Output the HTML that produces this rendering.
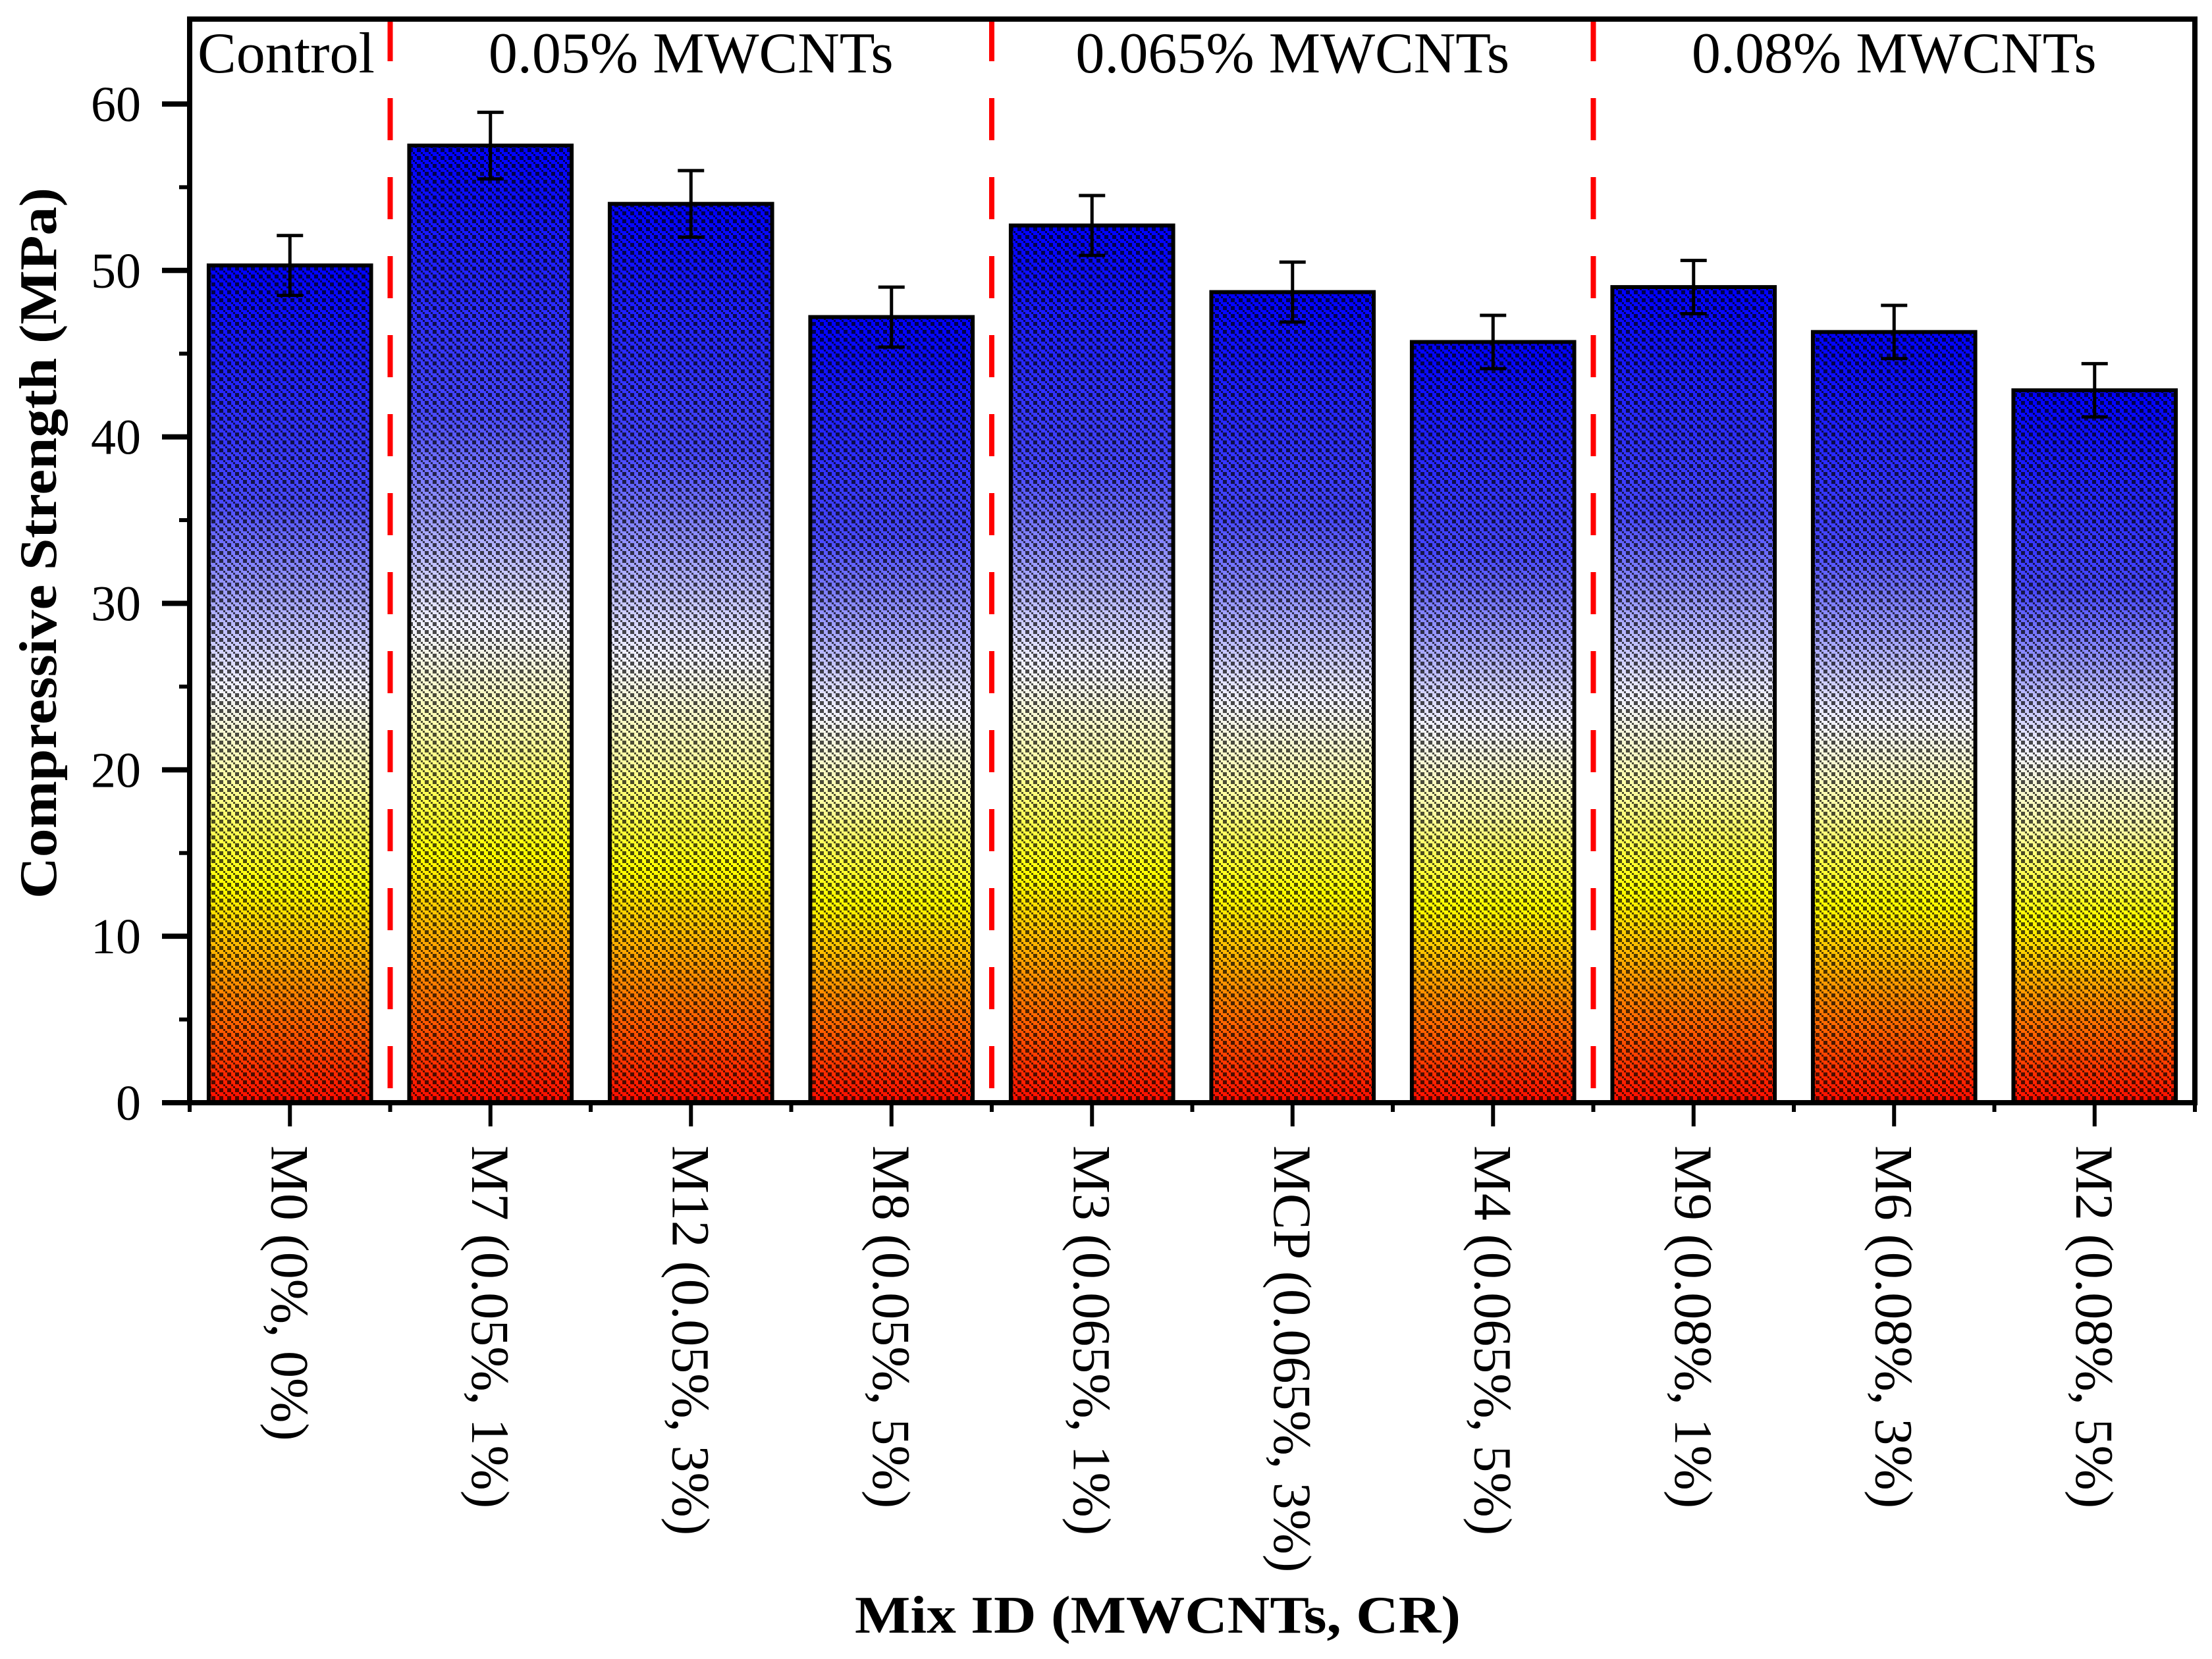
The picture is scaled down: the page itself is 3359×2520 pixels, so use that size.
<!DOCTYPE html>
<html><head><meta charset="utf-8">
<style>
html,body{margin:0;padding:0;background:#fff;}
svg{display:block;font-family:"Liberation Serif",serif;}
</style></head>
<body>
<svg id="chart" width="3359" height="2520" viewBox="0 0 3359 2520" xmlns="http://www.w3.org/2000/svg">
<defs>
<linearGradient id="barGrad" x1="0" y1="0" x2="0" y2="1">
<stop offset="0" stop-color="#0000ff"/>
<stop offset="0.28" stop-color="#4848ff"/>
<stop offset="0.5" stop-color="#f0f0ff"/>
<stop offset="0.62" stop-color="#ffffa0"/>
<stop offset="0.74" stop-color="#ffff00"/>
<stop offset="0.86" stop-color="#ff8c00"/>
<stop offset="1" stop-color="#ff0a00"/>
</linearGradient>
<pattern id="weave" width="12" height="12" patternUnits="userSpaceOnUse">
<rect x="0" y="0" width="3" height="3" fill="#000"/>
<rect x="3" y="3" width="3" height="3" fill="#000"/>
<rect x="9" y="0" width="3" height="3" fill="#000"/>
<rect x="6" y="6" width="3" height="3" fill="#000"/>
<rect x="0" y="9" width="3" height="3" fill="#000"/>
<rect x="9" y="9" width="3" height="3" fill="#000"/>
</pattern>
</defs>
<g id="plot"></g>
</svg>
<script>
const categories = ["M0 (0%, 0%)","M7 (0.05%, 1%)","M12 (0.05%, 3%)","M8 (0.05%, 5%)","M3 (0.065%, 1%)","MCP (0.065%, 3%)","M4 (0.065%, 5%)","M9 (0.08%, 1%)","M6 (0.08%, 3%)","M2 (0.08%, 5%)"];
const strengthValues = [50.3, 57.5, 54.0, 47.2, 52.7, 48.7, 45.7, 49.0, 46.3, 42.8];
const errorValues = [1.8, 2.0, 2.0, 1.8, 1.8, 1.8, 1.6, 1.6, 1.6, 1.6];
const yTicks = [0, 10, 20, 30, 40, 50, 60];
const groupLabels = ["Control", "0.05% MWCNTs", "0.065% MWCNTs", "0.08% MWCNTs"];
const groupStarts = [0, 1, 4, 7];
const groupEnds = [1, 4, 7, 10];

const NS = "http://www.w3.org/2000/svg";
const L = 288, R = 3333, T = 29, B = 1675;
const yMax = 65.1;
const band = (R - L) / categories.length;
function xCenter(i){ return L + band * (i + 0.5); }
function xEdge(i){ return L + band * i; }
function yPos(v){ return B - (v / yMax) * (B - T); }
const g = document.getElementById('plot');
function el(tag, attrs, parent){
  const e = document.createElementNS(NS, tag);
  for (const k in attrs) e.setAttribute(k, attrs[k]);
  (parent || g).appendChild(e);
  return e;
}

const barW = band * 0.81;
categories.forEach((c, i) => {
  const x = xCenter(i) - barW / 2, y = yPos(strengthValues[i]), h = B - y;
  const r = el('rect', {x: x, y: y, width: barW, height: h, fill: 'url(#barGrad)'});
  
  
  const p = el('rect', {x: x, y: y, width: barW, height: h, fill: 'url(#weave)', opacity: 0.7});
  
  
  const o = el('rect', {x: x, y: y, width: barW, height: h, fill: 'none', stroke: '#000', 'stroke-width': 6});
  
  
  const cx = xCenter(i), yt = yPos(strengthValues[i] + errorValues[i]), yb = yPos(strengthValues[i] - errorValues[i]);
  const eg = el('g', {stroke: '#000', 'stroke-width': 5, fill: 'none'});
  
  
  el('line', {x1: cx, x2: cx, y1: yt, y2: yb}, eg);
  el('line', {x1: cx - 20, x2: cx + 20, y1: yt, y2: yt}, eg);
  el('line', {x1: cx - 20, x2: cx + 20, y1: yb, y2: yb}, eg);
});

groupStarts.slice(1).forEach(s => {
  const x = xEdge(s);
  const d = el('line', {x1: x, x2: x, y1: T, y2: B - 4, stroke: '#ff0000', 'stroke-width': 8, 'stroke-dasharray': '64 56'});
  
  
});

groupLabels.forEach((lab, k) => {
  let x, anchor;
  if (k === 0) { x = 300; anchor = 'start'; }
  else { x = (xEdge(groupStarts[k]) + xEdge(groupEnds[k])) / 2; anchor = 'middle'; }
  const t = el('text', {x: x, y: 110, 'font-size': 88, 'text-anchor': anchor, fill: '#000'});
  t.textContent = lab;
  
  
});

const fr = el('rect', {x: L, y: T, width: R - L, height: B - T, fill: 'none', stroke: '#000', 'stroke-width': 8});



for (let v = 0; v <= 60; v += 5) {
  const y = yPos(v);
  const major = v % 10 === 0;
  const tk = el('line', {x1: L - (major ? 42 : 16), x2: L, y1: y, y2: y, stroke: '#000', 'stroke-width': major ? 8 : 6});
  
  
}
yTicks.forEach(v => {
  const t = el('text', {x: 214, y: yPos(v) + 26, 'font-size': 76, 'text-anchor': 'end', fill: '#000'});
  t.textContent = v;
  
  
});

for (let i = 0; i <= categories.length; i++) {
  const tk = el('line', {x1: xEdge(i), x2: xEdge(i), y1: B, y2: B + 14, stroke: '#000', 'stroke-width': 6});
  
  
}
categories.forEach((c, i) => {
  const x = xCenter(i);
  const tk = el('line', {x1: x, x2: x, y1: B, y2: B + 36, stroke: '#000', 'stroke-width': 6});
  
  
  const t = el('text', {x: 0, y: 0, 'font-size': 82, fill: '#000', transform: 'translate(' + (x - 28) + ',1740) rotate(90)'});
  t.textContent = c;
  
  
});

const yt = el('text', {x: 0, y: 0, 'font-size': 80, 'font-weight': 'bold', 'text-anchor': 'middle', fill: '#000', transform: 'translate(85,825) rotate(-90)', textLength: 1080, lengthAdjust: 'spacingAndGlyphs'});
yt.textContent = 'Compressive Strength (MPa)';


const xt = el('text', {x: 1758, y: 2480, 'font-size': 80, 'font-weight': 'bold', 'text-anchor': 'middle', fill: '#000', textLength: 920, lengthAdjust: 'spacingAndGlyphs'});
xt.textContent = 'Mix ID (MWCNTs, CR)';


</script>
</body></html>
